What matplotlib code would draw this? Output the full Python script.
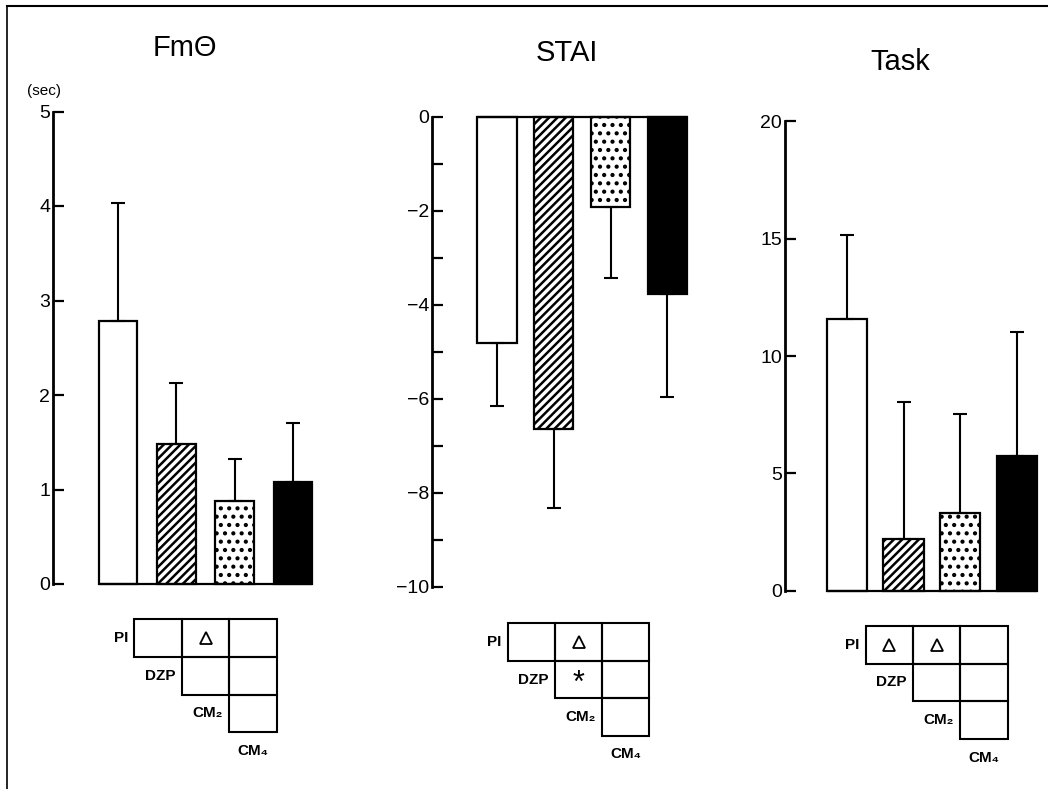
"""FmTheta / STAI / Task change scores by drug group, with pairwise test grids."""

import matplotlib
matplotlib.use("Agg")
import matplotlib.pyplot as plt
import numpy as np
from matplotlib.patches import Rectangle

plt.rcParams["font.family"] = ["Liberation Sans", "DejaVu Sans"]
plt.rcParams["hatch.linewidth"] = 1.8

W, H = 1048, 789

groups = ["PI", "DZP", "CM₂", "CM₄"]

fm_mean = [2.78, 1.48, 0.88, 1.08]
fm_sd = [1.25, 0.65, 0.44, 0.62]

stai_mean = [-4.82, -6.65, -1.93, -3.78]
stai_sd = [1.33, 1.68, 1.51, 2.18]

task_mean = [11.58, 2.20, 3.32, 5.74]
task_sd = [3.58, 5.84, 4.21, 5.27]

# significant pairs per panel: (group a, group b, mark)
fm_sig = [("PI", "CM₂", "tri")]
stai_sig = [("PI", "CM₂", "tri"), ("DZP", "CM₂", "star")]
task_sig = [("PI", "DZP", "tri"), ("PI", "CM₂", "tri")]

bar_faces = ["white", "white", "white", "black"]
bar_hatches = [None, "////", "..", None]


def px_axes(fig, left, right, top, bottom):
    return fig.add_axes([left / W, 1 - bottom / H, (right - left) / W, (bottom - top) / H])


def bar_panel(fig, box, mean, sd, ylim, major, minor, xlim, width):
    ax = px_axes(fig, *box)
    x = np.arange(len(mean))
    mean = np.asarray(mean)
    sd = np.asarray(sd)
    for xi, m, face, hatch in zip(x, mean, bar_faces, bar_hatches):
        ax.bar(xi, m, width=width, color=face, edgecolor="black", hatch=hatch,
               linewidth=1.6, clip_on=False, zorder=2)
    lo = np.where(mean < 0, sd, 0)
    hi = np.where(mean < 0, 0, sd)
    ax.errorbar(x, mean, yerr=[lo, hi], fmt="none", ecolor="black",
                elinewidth=1.5, capsize=5, capthick=1.5, clip_on=False, zorder=3)
    ax.hlines(0, x[0] - width / 2, x[-1] + width / 2, color="black", lw=1.6,
              clip_on=False, zorder=3)
    ax.set_xlim(*xlim)
    ax.set_ylim(*ylim)
    ax.set_yticks(major)
    if minor is not None:
        ax.set_yticks(minor, minor=True)
    ax.set_xticks([])
    for side in ("top", "right", "bottom"):
        ax.spines[side].set_visible(False)
    ax.spines["left"].set_linewidth(2)
    ax.tick_params(axis="y", which="both", direction="in", length=8, width=1.6,
                   labelsize=14, pad=2)
    ax.patch.set_alpha(0)
    return ax


def sig_grid(fig, box, sig):
    ax = px_axes(fig, *box)
    ax.set_xlim(0, 3)
    ax.set_ylim(3, 0)
    ax.axis("off")
    for i in range(3):
        for j in range(i, 3):
            ax.add_patch(Rectangle((j, i), 1, 1, fill=False, lw=1.5,
                                   edgecolor="black", clip_on=False))
    for i, name in enumerate(groups[:3]):
        ax.text(i - 0.13, i + 0.5, name, ha="right", va="center", fontsize=11,
                fontweight="bold")
    ax.text(2.5, 3.5, groups[3], ha="center", va="center", fontsize=11,
            fontweight="bold")
    for a, b, mark in sig:
        i = groups.index(a)
        j = groups.index(b) - 1
        if mark == "tri":
            ax.plot(j + 0.5, i + 0.5, marker="^", ms=8, mfc="white", mec="black",
                    mew=1.3, clip_on=False)
        else:
            ax.text(j + 0.5, i + 0.62, "*", ha="center", va="center", fontsize=22)
    return ax


fig = plt.figure(figsize=(W / 100, H / 100), dpi=100)

bar_panel(fig, (53, 312, 111.5, 584), fm_mean, fm_sd, (0, 5),
          [0, 1, 2, 3, 4, 5], None, (-1.117, 3.33), 0.66)
bar_panel(fig, (432, 687, 116.7, 586.7), stai_mean, stai_sd, (-10, 0),
          [0, -2, -4, -6, -8, -10], np.arange(-9, 0, 2), (-1.146, 3.345), 0.69)
bar_panel(fig, (785, 1037, 121.3, 590.7), task_mean, task_sd, (0, 20),
          [0, 5, 10, 15, 20], None, (-1.093, 3.355), 0.71)

sig_grid(fig, (134.3, 276.7, 619.3, 732.3), fm_sig)
sig_grid(fig, (507.7, 649.3, 623.3, 735.7), stai_sig)
sig_grid(fig, (865.7, 1007.7, 626, 739), task_sig)

fig.text(185 / W, 1 - 48 / H, "FmΘ", ha="center", va="center", fontsize=21)
fig.text(567 / W, 1 - 53 / H, "STAI", ha="center", va="center", fontsize=21)
fig.text(900 / W, 1 - 62 / H, "Task", ha="center", va="center", fontsize=21)
fig.text(44 / W, 1 - 91 / H, "(sec)", ha="center", va="center", fontsize=11)

# scanned page frame (top and left edges)
fig.add_artist(plt.Line2D([7 / W, 1], [1 - 6 / H, 1 - 6 / H], color="black", lw=1.5))
fig.add_artist(plt.Line2D([7 / W, 7 / W], [0, 1 - 6 / H], color="black", lw=1.2))

fig.savefig("out.png", dpi=100, facecolor="white")
